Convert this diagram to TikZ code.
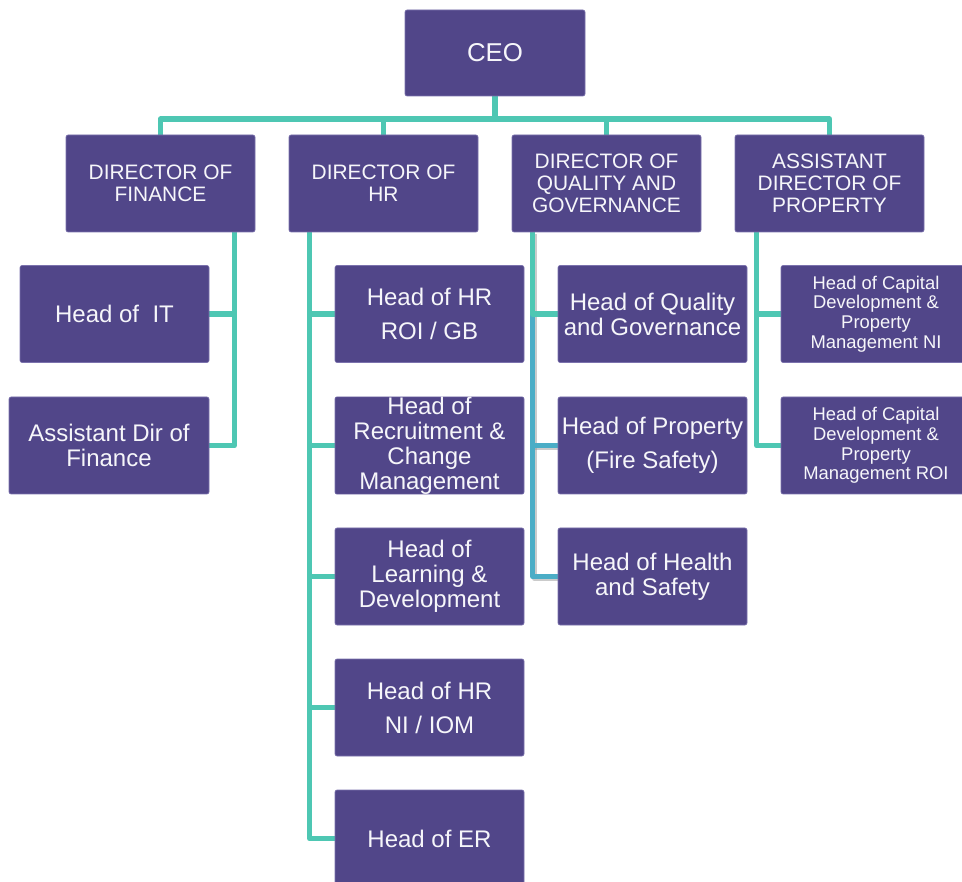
\documentclass[tikz,border=0pt]{standalone}
\usepackage{fontspec}
\setmainfont{Liberation Sans}
\usetikzlibrary{backgrounds}
\definecolor{boxc}{HTML}{514689}
\definecolor{edgec}{HTML}{7B72AD}
\definecolor{linec}{HTML}{4EC7B3}
\definecolor{bluec}{HTML}{4BADC6}
\definecolor{txtc}{HTML}{F6F6FA}
\begin{document}
\begin{tikzpicture}[x=1pt,y=-1pt,
  box/.style={fill=boxc, draw=edgec, line width=0.6pt, rounded corners=2pt, text=txtc,
    align=center, inner sep=0pt, minimum width=189pt, minimum height=97pt},
  ftop/.style={font={\fontsize{25.8}{28}\selectfont}},
  fdir/.style={font={\fontsize{20.9}{22}\selectfont}},
  fhead/.style={font={\fontsize{24}{25}\selectfont}},
  fheadw/.style={font={\fontsize{24}{34}\selectfont}},
  fsmall/.style={font={\fontsize{18.4}{19.7}\selectfont}},
  conn/.style={draw=linec, line width=5.5pt, line join=round},
  connb/.style={draw=bluec, line width=5.5pt, line join=round},
  shad/.style={draw=black!45, opacity=0.45, line width=5.5pt, line join=round}]
\useasboundingbox (0,0) rectangle (962,882);
% nodes
\node[box, ftop, minimum width=180pt, minimum height=86pt] (ceo) at (495,53) {CEO};
\node[box, fdir] (dfin) at (160.5,183.5) {DIRECTOR OF\\FINANCE};
\node[box, fdir] (dhr) at (383.5,183.5) {DIRECTOR OF\\HR};
\node[box, fdir] (dqg) at (606.5,183.5) {DIRECTOR OF\\QUALITY AND\\GOVERNANCE};
\node[box, fdir] (dprop) at (829.5,183.5) {ASSISTANT\\DIRECTOR OF\\PROPERTY};
\node[box, fhead] (it) at (114.5,314) {Head of\ \ IT};
\node[box, fhead, minimum width=200pt] (adf) at (109,445.5) {Assistant Dir of\\Finance};
\node[box, fheadw] (hr1) at (429.5,314) {Head of HR\\ROI / GB};
\node[box, fhead] (hr2) at (429.5,445.5) {Head of\\Recruitment \&\\Change\\Management};
\node[box, fhead] (hr3) at (429.5,576.5) {Head of\\Learning \&\\Development};
\node[box, fheadw] (hr4) at (429.5,707.5) {Head of HR\\NI / IOM};
\node[box, fhead] (hr5) at (429.5,838.5) {Head of ER};
\node[box, fhead] (qg1) at (652.5,314) {Head of Quality\\and Governance};
\node[box, fheadw] (qg2) at (652.5,445.5) {Head of Property\\(Fire Safety)};
\node[box, fhead] (qg3) at (652.5,576.5) {Head of Health\\and Safety};
\node[box, fsmall, minimum width=190pt] (pr1) at (876,314) {Head of Capital\\Development \&\\Property\\Management NI};
\node[box, fsmall, minimum width=190pt] (pr2) at (876,445.5) {Head of Capital\\Development \&\\Property\\Management ROI};
% junction coordinates
\coordinate (bus) at (495,119);
\coordinate (fj) at ([xshift=-21pt]dfin.south east);
\coordinate (hj) at ([xshift=21pt]dhr.south west);
\coordinate (qj) at ([xshift=21pt]dqg.south west);
\coordinate (pj) at ([xshift=22pt]dprop.south west);
% connectors
\begin{scope}[on background layer]
\draw[conn] (ceo.south) -- (bus);
\draw[conn] (dfin.north) |- (bus) -| (dprop.north);
\draw[conn] (dhr.north) -- (dhr.north |- bus);
\draw[conn] (dqg.north) -- (dqg.north |- bus);
% finance
\draw[conn] (fj) |- (adf.east);
\draw[conn] (it.east) -- (it.east -| fj);
% hr
\draw[conn] (hj) |- (hr5.west);
\draw[conn] (hr1.west -| hj) -- (hr1.west);
\draw[conn] (hr2.west -| hj) -- (hr2.west);
\draw[conn] (hr3.west -| hj) -- (hr3.west);
\draw[conn] (hr4.west -| hj) -- (hr4.west);
% quality and governance
\draw[shad, transform canvas={xshift=2pt,yshift=-2pt}] (qj) |- (qg3.west);
\draw[shad, transform canvas={xshift=2pt,yshift=-2pt}] (qg2.west -| qj) -- (qg2.west);
\draw[connb] (qg1.west -| qj) |- (qg3.west);
\draw[connb] (qg2.west -| qj) -- (qg2.west);
\draw[conn] (qj) |- (qg1.west);
% property
\draw[conn] (pj) |- (pr2.west);
\draw[conn] (pr1.west -| pj) -- (pr1.west);
\end{scope}
\end{tikzpicture}
\end{document}
